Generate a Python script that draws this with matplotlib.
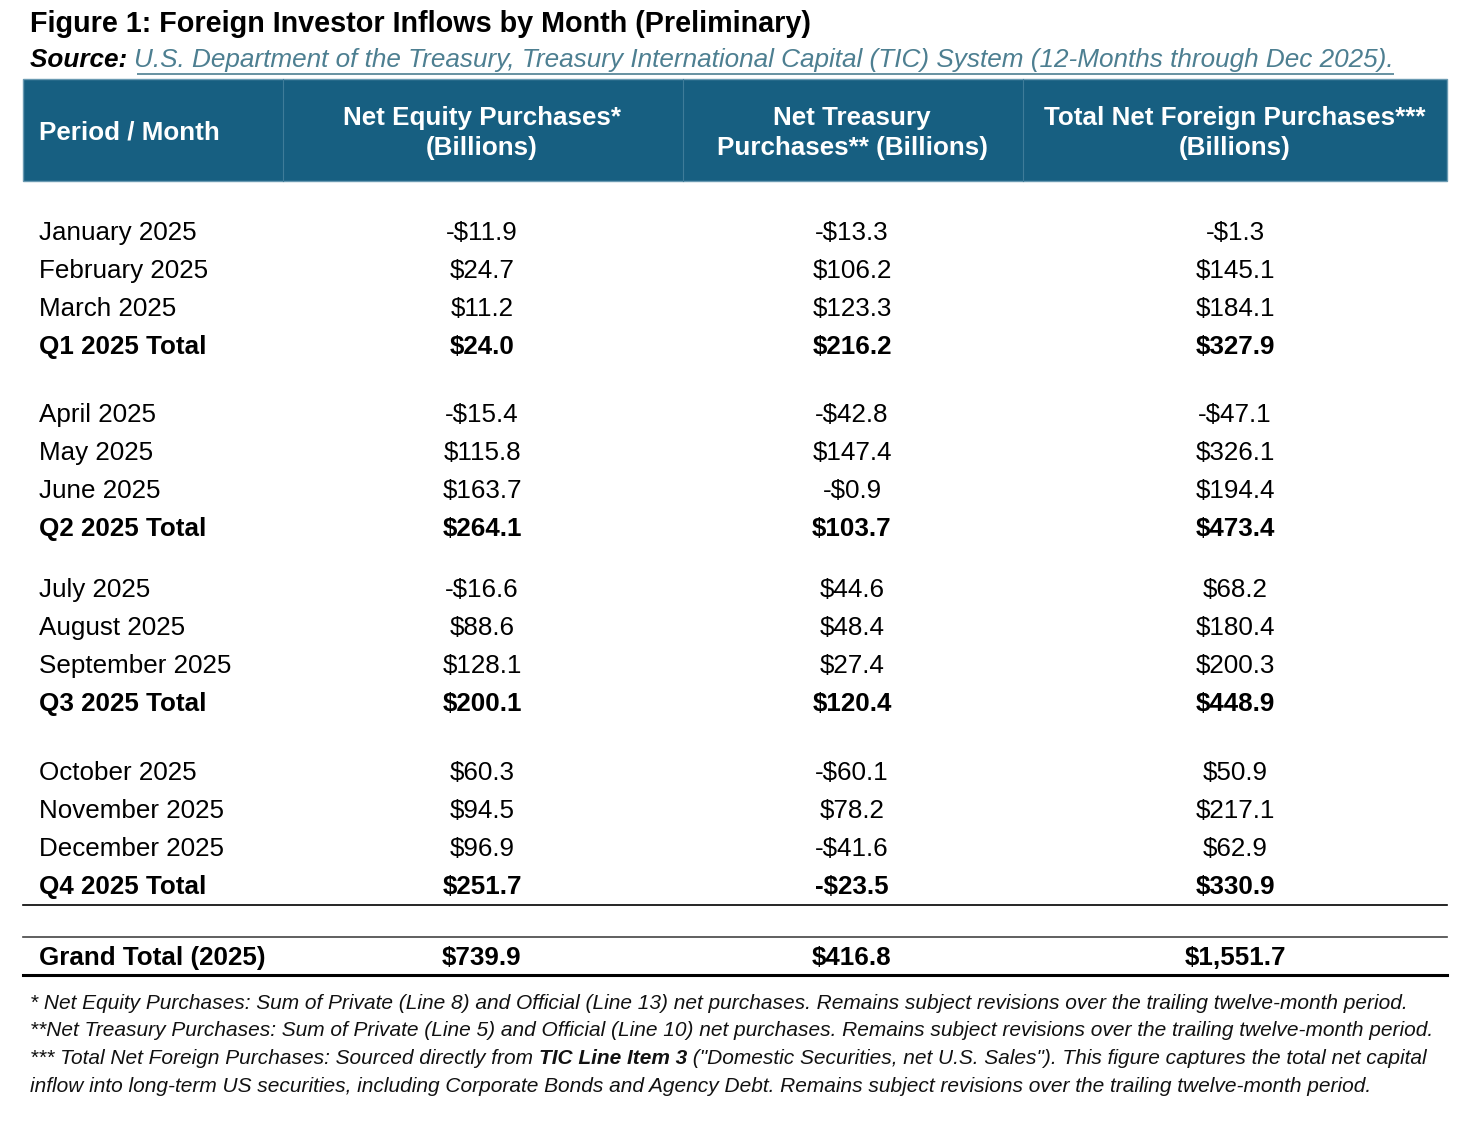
import matplotlib
matplotlib.use("Agg")
import matplotlib.pyplot as plt
from matplotlib.patches import Rectangle

# ---------------- data ----------------
title = "Figure 1: Foreign Investor Inflows by Month (Preliminary)"
source_label = "Source:"
source_text = "U.S. Department of the Treasury, Treasury International Capital (TIC) System (12-Months through Dec 2025)."

col_headers = ["Period / Month",
               "Net Equity Purchases*\n(Billions)",
               "Net Treasury\nPurchases** (Billions)",
               "Total Net Foreign Purchases***\n(Billions)"]

groups = [
    ["January 2025", "February 2025", "March 2025", "Q1 2025 Total"],
    ["April 2025", "May 2025", "June 2025", "Q2 2025 Total"],
    ["July 2025", "August 2025", "September 2025", "Q3 2025 Total"],
    ["October 2025", "November 2025", "December 2025", "Q4 2025 Total"],
]
equity = [[-11.9, 24.7, 11.2, 24.0],
          [-15.4, 115.8, 163.7, 264.1],
          [-16.6, 88.6, 128.1, 200.1],
          [60.3, 94.5, 96.9, 251.7]]
treasury = [[-13.3, 106.2, 123.3, 216.2],
            [-42.8, 147.4, -0.9, 103.7],
            [44.6, 48.4, 27.4, 120.4],
            [-60.1, 78.2, -41.6, -23.5]]
total = [[-1.3, 145.1, 184.1, 327.9],
         [-47.1, 326.1, 194.4, 473.4],
         [68.2, 180.4, 200.3, 448.9],
         [50.9, 217.1, 62.9, 330.9]]

grand_label = "Grand Total (2025)"
grand_values = [739.9, 416.8, 1551.7]

footnotes = [
    [("* Net Equity Purchases: Sum of Private (Line 8) and Official (Line 13) net purchases. Remains subject revisions over the trailing twelve-month period.", "normal")],
    [("**Net Treasury Purchases: Sum of Private (Line 5) and Official (Line 10) net purchases. Remains subject revisions over the trailing twelve-month period.", "normal")],
    [("*** Total Net Foreign Purchases: Sourced directly from ", "normal"),
     ("TIC Line Item 3", "bold"),
     (" (\"Domestic Securities, net U.S. Sales\"). This figure captures the total net capital", "normal")],
    [("inflow into long-term US securities, including Corporate Bonds and Agency Debt. Remains subject revisions over the trailing twelve-month period.", "normal")],
]

# ---------------- layout ----------------
W, H = 1482, 1122
FONT = "Liberation Sans"
HEADER_COLOR = "#175f81"
LINK_COLOR = "#4d7f91"
BODY_SIZE = 18.7

fig = plt.figure(figsize=(W / 100, H / 100), dpi=100)
ax = fig.add_axes([0, 0, 1, 1])
ax.set_xlim(0, W)
ax.set_ylim(H, 0)
ax.axis("off")
renderer = fig.canvas.get_renderer()


def fmt(v):
    s = "${:,.1f}".format(abs(v))
    return "-" + s if v < 0 else s


def draw_runs(x, y, runs, size, colors=None, underline_idx=(), style="italic",
              default_color="black"):
    colors = colors or {}
    for i, (txt, weight) in enumerate(runs):
        c = colors.get(i, default_color)
        t = ax.text(x, y, txt, fontsize=size, fontfamily=FONT, fontstyle=style,
                    fontweight=weight, color=c, va="center", ha="left")
        w = t.get_window_extent(renderer=renderer).width
        if i in underline_idx:
            uy = y + size * 0.72
            ax.plot([x + 2, x + w], [uy, uy], color=c, lw=1.2,
                    solid_capstyle="butt")
        x += w
    return x


# title
ax.text(30, 24, title, fontsize=20.7, fontweight="bold", fontfamily=FONT,
        va="center", ha="left", color="black")

# source line
draw_runs(30, 60, [(source_label + " ", "bold"), (source_text, "normal")], 18.8,
          colors={1: LINK_COLOR}, underline_idx={1})

# header
left, right = 23, 1447
htop, hbot = 79, 181
ax.add_patch(Rectangle((left, htop), right - left, hbot - htop,
                       facecolor=HEADER_COLOR, edgecolor="#6a9ab2", lw=1.0))
for xs in [283, 683, 1023]:
    ax.plot([xs, xs], [htop, hbot], color="#3f7c99", lw=0.8)

col_x = [39, 482, 852, 1235]
ax.text(col_x[0], 132, col_headers[0], fontsize=BODY_SIZE, fontweight="bold",
        fontfamily=FONT, color="white", va="center", ha="left")
for j in range(1, 4):
    ax.text(col_x[j], 133, col_headers[j], fontsize=BODY_SIZE, fontweight="bold",
            fontfamily=FONT, color="white", va="center", ha="center",
            linespacing=1.34)

# body
group_start = [233, 415, 590, 773]
step = 38
for g, names in enumerate(groups):
    for r, name in enumerate(names):
        y = group_start[g] + r * step
        fw = "bold" if r == len(names) - 1 else "normal"
        ax.text(col_x[0], y, name, fontsize=BODY_SIZE, fontweight=fw,
                fontfamily=FONT, va="center", ha="left")
        for j, series in enumerate([equity, treasury, total]):
            ax.text(col_x[j + 1], y, fmt(series[g][r]), fontsize=BODY_SIZE,
                    fontweight=fw, fontfamily=FONT, va="center", ha="center")

# separator lines
ax.plot([left, right], [905, 905], color="black", lw=1.2)
ax.plot([left, right], [937, 937], color="#444444", lw=1.2)
ax.plot([left, right], [975, 975], color="black", lw=2.2)

ax.text(col_x[0], 958, grand_label, fontsize=BODY_SIZE, fontweight="bold",
        fontfamily=FONT, va="center", ha="left")
for j, v in enumerate(grand_values):
    ax.text(col_x[j + 1], 958, fmt(v), fontsize=BODY_SIZE, fontweight="bold",
            fontfamily=FONT, va="center", ha="center")

# footnotes
fy = [1003, 1031, 1059, 1087]
for y, runs in zip(fy, footnotes):
    draw_runs(30, y, runs, 15.0, default_color="#111111")

fig.savefig("out.png", dpi=100, facecolor="white")
